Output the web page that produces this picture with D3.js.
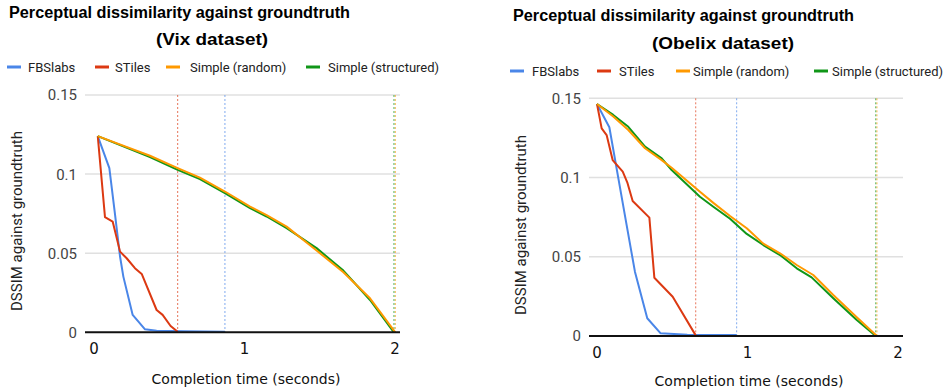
<!DOCTYPE html>
<html>
<head>
<meta charset="utf-8">
<script src="https://cdn.jsdelivr.net/npm/d3@7"></script>
<style>
  html, body { margin: 0; padding: 0; background: #fff; }
  svg { display: block; }
</style>
</head>
<body>
<svg id="chart" width="948" height="392"></svg>
<script>
// Series names, colours and tick values shared by both panels
const seriesNames = ["FBSlabs", "STiles", "Simple (random)", "Simple (structured)"];
const seriesColors = ["#4a86e8", "#dc3912", "#ff9900", "#109618"];
const yTicks = [0, 0.05, 0.1, 0.15];
const yTickLabels = ["0", "0.05", "0.1", "0.15"];
const xTicks = [0, 1, 2];
const xTickLabels = ["0", "1", "2"];

// Vix dataset: [completion time (s), DSSIM]
const vixFBSlabs = [[0.025,0.124],[0.102,0.1038],[0.140,0.0743],[0.173,0.0479],[0.195,0.0352],[0.257,0.011],[0.339,0.0019],[0.416,0.001],[0.60,0.0006],[0.870,0.0003]];
const vixSTiles = [[0.025,0.124],[0.073,0.0728],[0.124,0.070],[0.173,0.051],[0.217,0.0468],[0.272,0.0405],[0.317,0.0369],[0.416,0.0141],[0.456,0.011],[0.509,0.004],[0.556,0.0003]];
const vixSimpleRandom = [[0.025,0.124],[0.372,0.1116],[0.556,0.1038],[0.704,0.0978],[0.870,0.089],[1.037,0.0795],[1.147,0.0740],[1.280,0.0668],[1.479,0.0517],[1.657,0.038],[1.834,0.0215],[2.002,0]];
const vixSimpleStructured = [[0.025,0.124],[0.372,0.1108],[0.556,0.1027],[0.704,0.0968],[0.870,0.088],[1.037,0.0785],[1.147,0.0732],[1.280,0.0658],[1.479,0.0532],[1.657,0.039],[1.834,0.0204],[1.993,0]];

// Obelix dataset
const obelixFBSlabs = [[0,0.1464],[0.082,0.1317],[0.142,0.0995],[0.197,0.070],[0.252,0.0406],[0.334,0.0112],[0.423,0.0017],[0.60,0.0008],[0.928,0.0006]];
const obelixSTiles = [[0,0.1464],[0.031,0.131],[0.064,0.1268],[0.104,0.111],[0.171,0.1037],[0.201,0.097],[0.237,0.0852],[0.348,0.0747],[0.381,0.0368],[0.503,0.0248],[0.656,0.0004]];
const obelixSimpleRandom = [[0,0.1464],[0.108,0.1385],[0.208,0.130],[0.319,0.1185],[0.430,0.111],[0.496,0.1062],[0.684,0.091],[0.773,0.0840],[0.884,0.0757],[0.995,0.068],[1.105,0.0583],[1.216,0.0522],[1.327,0.0448],[1.437,0.0385],[1.570,0.0259],[1.726,0.0118],[1.860,0]];
const obelixSimpleStructured = [[0,0.1464],[0.108,0.1395],[0.208,0.132],[0.319,0.1195],[0.430,0.1121],[0.496,0.1047],[0.684,0.0879],[0.773,0.0816],[0.884,0.0740],[0.995,0.0644],[1.105,0.0574],[1.216,0.0511],[1.327,0.0427],[1.426,0.037],[1.570,0.0238],[1.726,0.0101],[1.852,0]];

const titleLine1 = "Perceptual dissimilarity against groundtruth";
const xTitle = "Completion time (seconds)";
const yTitle = "DSSIM against groundtruth";

const panels = [
  {
    subtitle: "(Vix dataset)",
    series: [vixFBSlabs, vixSTiles, vixSimpleRandom, vixSimpleStructured],
    title1X: 9, title1Y: 18, title1W: 341, title2X: 156, title2Y: 45, title2W: 112,
    legendY: 67, legendSwatchX: [7, 95, 166, 306], legendTextX: [28, 115, 190, 328],
    plotLeft: 85, plotRight: 400, x0: 94, x2: 395, yZero: 332.3, yTop: 95,
    yLabelX: 77, xLabelY: 354, xTitleX: 246, xTitleY: 384, yTitleX: 17, yTitleY: 221
  },
  {
    subtitle: "(Obelix dataset)",
    series: [obelixFBSlabs, obelixSTiles, obelixSimpleRandom, obelixSimpleStructured],
    title1X: 513, title1Y: 21, title1W: 341, title2X: 652, title2Y: 49, title2W: 142,
    legendY: 71, legendSwatchX: [510, 597, 676, 814], legendTextX: [532, 619, 693, 832],
    plotLeft: 589, plotRight: 903, x0: 597, x2: 898, yZero: 336, yTop: 98.3,
    yLabelX: 581, xLabelY: 358, xTitleX: 749, xTitleY: 386, yTitleX: 521, yTitleY: 225
  }
];

const svg = d3.select("#chart");

panels.forEach(p => {
  const g = svg.append("g");

  // Scales: x pinned by the 0 and 2 second ticks, y by 0 and 0.15
  const x = d3.scaleLinear().domain([0, 2]).range([p.x0, p.x2]);
  const y = d3.scaleLinear().domain([0, 0.15]).range([p.yZero, p.yTop]);

  // Title (two lines)
  g.append("text")
    .attr("x", p.title1X).attr("y", p.title1Y)
    .attr("font-family", "Liberation Sans, Arial, sans-serif")
    .attr("font-weight", "bold").attr("font-size", 16).attr("fill", "#000")
    .attr("textLength", p.title1W).attr("lengthAdjust", "spacingAndGlyphs")
    .text(titleLine1);
  g.append("text")
    .attr("x", p.title2X).attr("y", p.title2Y)
    .attr("font-family", "Liberation Sans, Arial, sans-serif")
    .attr("font-weight", "bold").attr("font-size", 16).attr("fill", "#000")
    .attr("textLength", p.title2W).attr("lengthAdjust", "spacingAndGlyphs")
    .text(p.subtitle);

  // Legend
  seriesNames.forEach((name, i) => {
    g.append("line")
      .attr("x1", p.legendSwatchX[i]).attr("x2", p.legendSwatchX[i] + 14)
      .attr("y1", p.legendY).attr("y2", p.legendY)
      .attr("stroke", seriesColors[i]).attr("stroke-width", 3);
    g.append("text")
      .attr("x", p.legendTextX[i]).attr("y", p.legendY)
      .attr("dy", "0.35em")
      .attr("font-family", "Roboto, sans-serif").attr("font-size", 13)
      .attr("fill", "#222")
      .text(name);
  });

  // Horizontal gridlines
  g.selectAll(".grid").data(yTicks.filter(t => t > 0)).enter()
    .append("line")
    .attr("x1", p.plotLeft).attr("x2", p.plotRight)
    .attr("y1", d => y(d)).attr("y2", d => y(d))
    .attr("stroke", "#e0e0e0").attr("stroke-width", 1.5);

  // Y tick labels
  g.selectAll(".ylab").data(yTicks).enter()
    .append("text")
    .attr("x", p.yLabelX).attr("y", d => y(d))
    .attr("dy", "0.36em").attr("text-anchor", "end")
    .attr("font-family", "Roboto, sans-serif").attr("font-size", 15)
    .attr("fill", "#444")
    .text((d, i) => yTickLabels[i]);

  // X tick labels
  g.selectAll(".xlab").data(xTicks).enter()
    .append("text")
    .attr("x", d => x(d)).attr("y", p.xLabelY)
    .attr("text-anchor", "middle")
    .attr("font-family", "DejaVu Sans, sans-serif").attr("font-size", 15)
    .attr("fill", "#111")
    .text((d, i) => xTickLabels[i]);

  // Axis titles
  g.append("text")
    .attr("x", p.xTitleX).attr("y", p.xTitleY)
    .attr("text-anchor", "middle")
    .attr("font-family", "DejaVu Sans, sans-serif").attr("font-size", 14)
    .attr("fill", "#111")
    .text(xTitle);
  g.append("text")
    .attr("transform", `translate(${p.yTitleX},${p.yTitleY}) rotate(-90)`)
    .attr("text-anchor", "middle").attr("dy", "0.35em")
    .attr("font-family", "Roboto, sans-serif").attr("font-size", 15)
    .attr("fill", "#222")
    .text(yTitle);

  // Dotted markers at each series' completion time
  p.series.forEach((s, i) => {
    const tEnd = s[s.length - 1][0];
    g.append("line")
      .attr("x1", x(tEnd)).attr("x2", x(tEnd))
      .attr("y1", y(0.15)).attr("y2", y(0))
      .attr("stroke", seriesColors[i]).attr("stroke-opacity", 0.7)
      .attr("stroke-width", 1).attr("stroke-dasharray", "2,2");
  });

  // Series lines (structured drawn before random so random sits on top)
  const line = d3.line().x(d => x(d[0])).y(d => y(d[1]));
  [0, 1, 3, 2].forEach(i => {
    g.append("path")
      .datum(p.series[i])
      .attr("d", line)
      .attr("fill", "none")
      .attr("stroke", seriesColors[i])
      .attr("stroke-width", 2)
      .attr("stroke-linejoin", "round");
  });

  // Baseline
  g.append("line")
    .attr("x1", p.plotLeft).attr("x2", p.plotRight)
    .attr("y1", y(0)).attr("y2", y(0))
    .attr("stroke", "#111").attr("stroke-width", 2);
});
</script>
</body>
</html>
